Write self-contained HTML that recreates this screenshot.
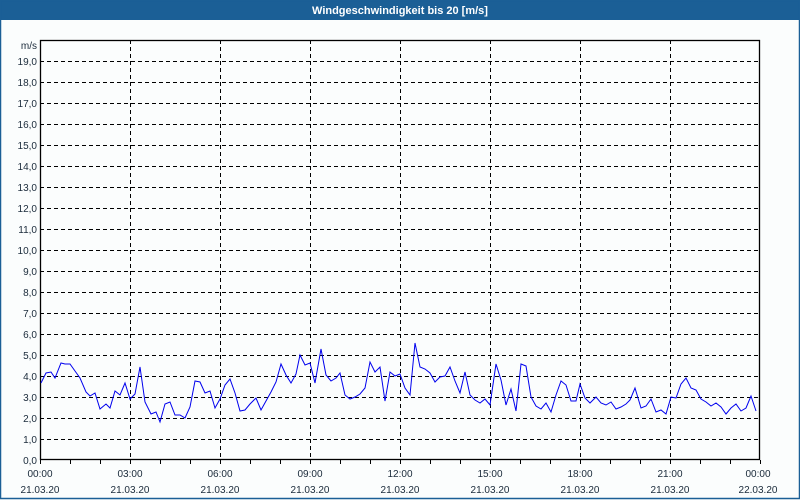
<!DOCTYPE html>
<html><head><meta charset="utf-8"><style>
html,body{margin:0;padding:0;background:#fff;}
svg{display:block;}
text{font-family:"Liberation Sans","DejaVu Sans",sans-serif;font-size:10px;fill:#1a2a3a;}
</style></head><body>
<svg width="800" height="500" viewBox="0 0 800 500" xmlns="http://www.w3.org/2000/svg">
<rect x="0" y="0" width="800" height="500" fill="#fbfdfd"/>
<rect x="0" y="0" width="800" height="20" fill="#1b5f96"/>
<rect x="0.5" y="0.5" width="799" height="498" fill="none" stroke="#1b5f96" stroke-width="1.5"/>
<text x="400" y="14" text-anchor="middle" style="font-size:11px;font-weight:bold;fill:#fff">Windgeschwindigkeit bis 20 [m/s]</text>
<g stroke="#000" stroke-width="1" stroke-dasharray="4,3" fill="none">
<path d="M40 61.5H760M40 82.5H760M40 103.5H760M40 124.5H760M40 145.5H760M40 166.5H760M40 187.5H760M40 208.5H760M40 229.5H760M40 250.5H760M40 271.5H760M40 292.5H760M40 313.5H760M40 334.5H760M40 355.5H760M40 376.5H760M40 397.5H760M40 418.5H760M40 439.5H760"/>
<path d="M130.5 40V460M220.5 40V460M310.5 40V460M400.5 40V460M490.5 40V460M580.5 40V460M670.5 40V460"/>
</g>
<rect x="40.5" y="40.5" width="719" height="419" fill="none" stroke="#000" stroke-width="1.3"/>
<g stroke="#000" stroke-width="1"><path d="M70.5 460v4M100.5 460v4M130.5 460v4M160.5 460v4M190.5 460v4M220.5 460v4M250.5 460v4M280.5 460v4M310.5 460v4M340.5 460v4M370.5 460v4M400.5 460v4M430.5 460v4M460.5 460v4M490.5 460v4M520.5 460v4M550.5 460v4M580.5 460v4M610.5 460v4M640.5 460v4M670.5 460v4M700.5 460v4M730.5 460v4M40.5 460v4M760.5 460v4"/></g>
<g text-anchor="end">
<text x="37" y="49">m/s</text>
<text x="37" y="65">19,0</text><text x="37" y="86">18,0</text><text x="37" y="107">17,0</text><text x="37" y="128">16,0</text><text x="37" y="149">15,0</text><text x="37" y="170">14,0</text><text x="37" y="191">13,0</text><text x="37" y="212">12,0</text><text x="37" y="233">11,0</text><text x="37" y="254">10,0</text><text x="37" y="275">9,0</text><text x="37" y="296">8,0</text><text x="37" y="317">7,0</text><text x="37" y="338">6,0</text><text x="37" y="359">5,0</text><text x="37" y="380">4,0</text><text x="37" y="401">3,0</text><text x="37" y="422">2,0</text><text x="37" y="443">1,0</text><text x="37" y="464">0,0</text>
</g>
<g text-anchor="middle">
<text x="40" y="477">00:00</text><text x="130" y="477">03:00</text><text x="220" y="477">06:00</text><text x="310" y="477">09:00</text><text x="400" y="477">12:00</text><text x="490" y="477">15:00</text><text x="580" y="477">18:00</text><text x="670" y="477">21:00</text><text x="758" y="477">00:00</text>
<text x="40" y="493">21.03.20</text><text x="130" y="493">21.03.20</text><text x="220" y="493">21.03.20</text><text x="310" y="493">21.03.20</text><text x="400" y="493">21.03.20</text><text x="490" y="493">21.03.20</text><text x="580" y="493">21.03.20</text><text x="670" y="493">21.03.20</text><text x="758" y="493">22.03.20</text>
</g>
<polyline fill="none" stroke="#0000ee" stroke-width="1" points="41,383 46,373 51,372 55,378 61,363 65,364 70,364 75,371 80,378 86,392 90,396 95,393 100,409 106,404 110,408 115,391 120,395 125,383 130,399 135,394 140,367 145,402 151,414 156,412 160,422 165,404 170,402 175,415 180,415 185,418 190,407 195,381 200,382 205,393 210,391 215,408 220,399 225,385 230,379 235,393 240,411 245,410 250,404 256,398 261,410 266,401 271,392 276,382 281,364 286,375 291,383 296,374 300,355 305,365 310,363 315,383 321,349 326,375 331,381 336,378 340,373 345,395 350,399 355,397 360,394 365,388 370,362 375,372 380,367 385,401 390,372 395,376 400,374 405,388 410,395 415,343 420,367 425,369 430,373 435,382 440,377 445,376 450,367 455,381 460,393 465,372 470,395 475,400 480,403 485,399 490,405 496,364 501,380 506,405 511,389 516,411 521,364 526,366 531,397 536,406 541,409 546,403 551,412 556,395 561,381 566,385 571,401 576,401 580,384 585,398 590,403 596,397 601,403 606,405 611,402 616,409 621,407 626,404 630,400 635,388 641,408 646,406 651,399 656,412 661,410 666,414 671,397 676,398 681,384 686,378 691,388 696,390 701,399 706,402 711,406 716,403 721,407 726,414 731,408 736,404 741,411 746,408 751,396 756,411"/>
</svg>
</body></html>
